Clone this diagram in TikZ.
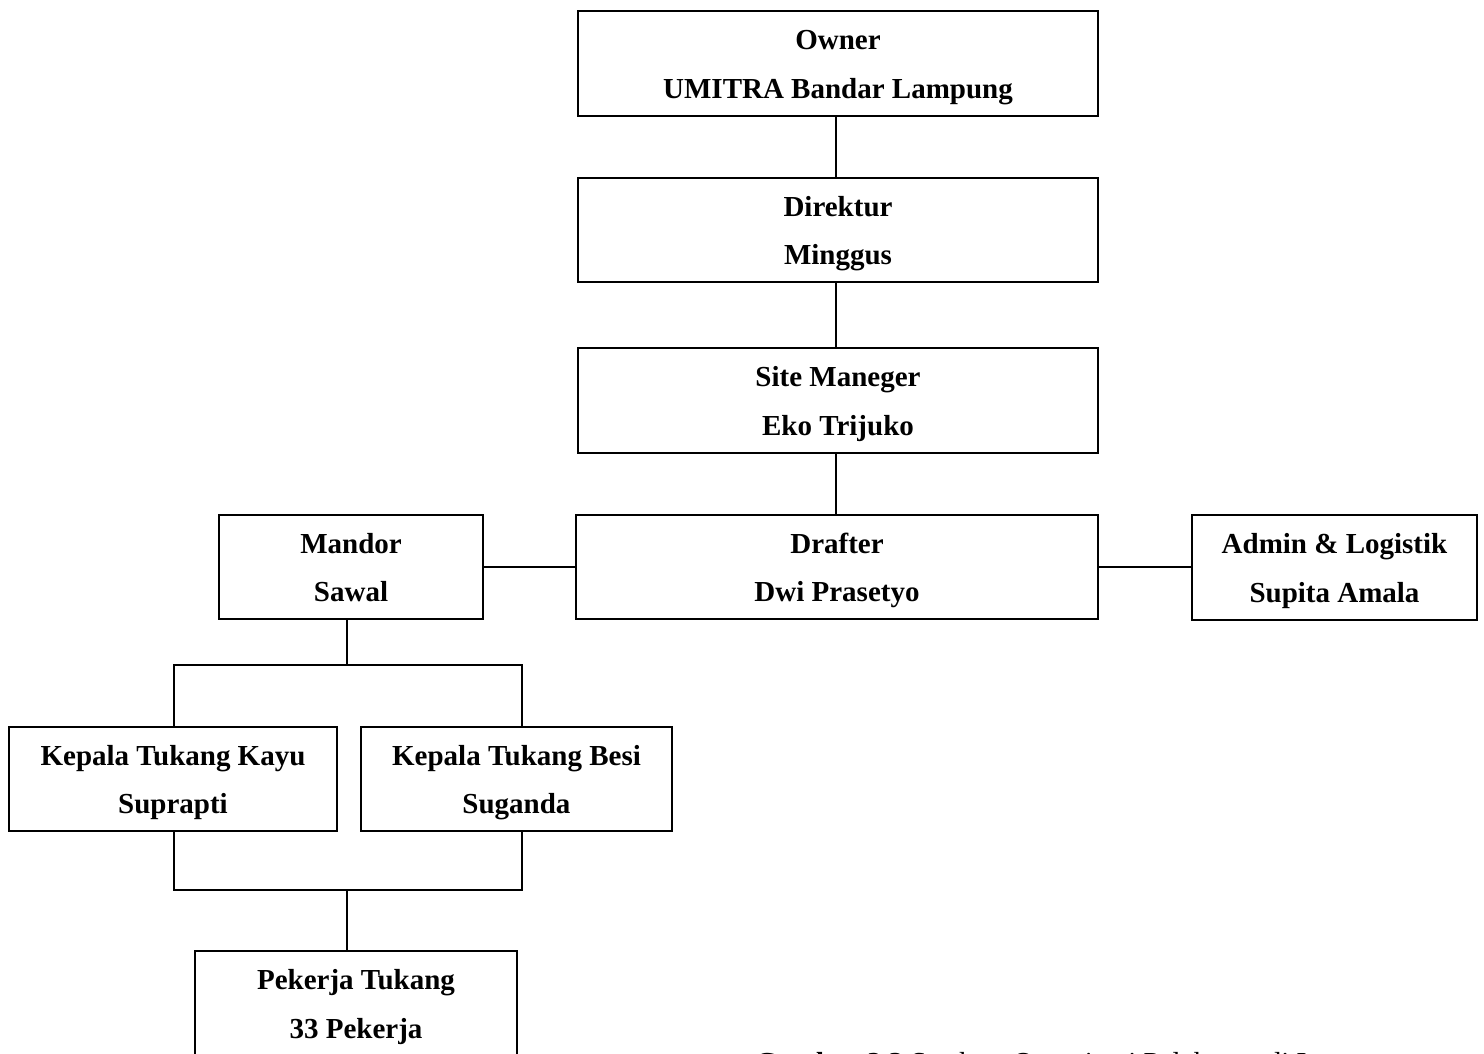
\documentclass[tikz,border=0pt]{standalone}
\usepackage{fontspec}
\setmainfont{Liberation Serif}
\tikzset{
  orgbox/.style={draw, line width=2pt, inner sep=0pt, align=center,
    text height=80pt, text depth=11pt,
    font=\fontsize{29}{48.5}\selectfont\bfseries},
  link/.style={line width=2pt}
}
\begin{document}
\begin{tikzpicture}[x=1pt,y=-1pt]
\useasboundingbox (0,0) rectangle (1484,1053);
\clip (0,0) rectangle (1484,1053);
\fill[white] (0,0) rectangle (1484,1053);
\node[orgbox, minimum width=520pt, minimum height=105pt] (owner) at (838,63.5) {Owner\\UMITRA Bandar Lampung};
\node[orgbox, minimum width=520pt, minimum height=104pt] (dir) at (838,230) {Direktur\\Minggus};
\node[orgbox, minimum width=520pt, minimum height=105pt] (site) at (838,400.5) {Site Maneger\\Eko Trijuko};
\node[orgbox, minimum width=522pt, minimum height=104pt] (draft) at (837,567) {Drafter\\Dwi Prasetyo};
\node[orgbox, minimum width=264pt, minimum height=104pt] (mandor) at (351,567) {Mandor\\Sawal};
\node[orgbox, minimum width=285pt, minimum height=105pt] (admin) at (1334.5,567.5) {Admin \& Logistik\\Supita Amala};
\node[orgbox, minimum width=328pt, minimum height=104pt] (kayu) at (173,779) {Kepala Tukang Kayu\\Suprapti};
\node[orgbox, minimum width=311pt, minimum height=104pt] (besi) at (516.5,779) {Kepala Tukang Besi\\Suganda};
\node[orgbox, minimum width=322pt, minimum height=105pt] (pekerja) at (356,1003.5) {Pekerja Tukang\\33 Pekerja};
\node[anchor=base west, inner sep=0pt, font=\fontsize{29}{35}\selectfont] (cap) at (755,1072) {\textbf{Gambar 2.3} Struktur Organisasi Pelaksana di Lapangan};
\coordinate (j1) at (347,665);
\coordinate (j2) at (347,890);
\draw[link] ([xshift=-2pt]owner.south) -- ([xshift=-2pt]dir.north);
\draw[link] ([xshift=-2pt]dir.south) -- ([xshift=-2pt]site.north);
\draw[link] ([xshift=-2pt]site.south) -- ([xshift=-1pt]draft.north);
\draw[link] (mandor.east) -- (draft.west);
\draw[link] (draft.east) -- (admin.west |- draft.east);
\draw[link] ([xshift=-4pt]mandor.south) -- (j1);
\draw[link] ([xshift=1pt]kayu.north) |- (j1) -| ([xshift=5.5pt]besi.north);
\draw[link] ([xshift=1pt]kayu.south) |- (j2) -| ([xshift=5.5pt]besi.south);
\draw[link] (j2) -- (j2 |- pekerja.north);
\end{tikzpicture}
\end{document}
